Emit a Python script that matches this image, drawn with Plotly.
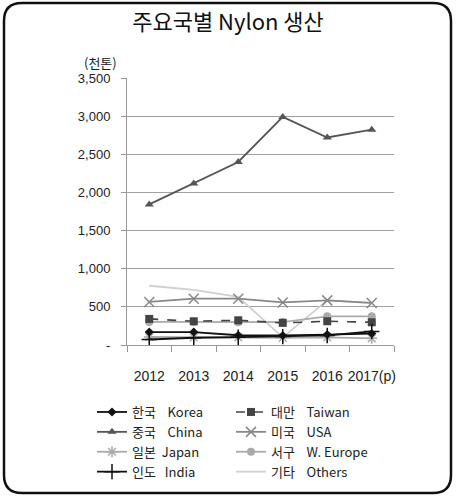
import plotly.graph_objects as go

years = ["2012", "2013", "2014", "2015", "2016", "2017(p)"]
korea = [170, 170, 128, 125, 137, 150]
taiwan = [342, 311, 324, 290, 311, 298]
china = [1843, 2117, 2399, 2990, 2720, 2822]
usa = [564, 607, 607, 558, 585, 551]
japan = [105, 100, 100, 94, 100, 88]
weurope = [303, 303, 298, 300, 376, 376]
india = [72, 95, 102, 110, 125, 178]
others = [777, 724, 630, 100, 585, 550]

ytickvals = [0, 500, 1000, 1500, 2000, 2500, 3000, 3500]
yticktext = ["-", "500", "1,000", "1,500", "2,000", "2,500", "3,000", "3,500"]

W, H = 456, 497
ML, MR, MT, MB = 127, 62, 78, 152
PW = W - ML - MR
PH = H - MT - MB

def px(x):
    return (x - ML) / PW

def py(y):
    return (H - MB - y) / PH

FONT = "Liberation Sans, Arial, Noto Sans CJK KR, sans-serif"
SP = "\u00a0"

series = [
    ("한국" + SP * 4 + "Korea", korea, "#111111", "solid", "diamond", 7, 1.8, 1),
    ("대만" + SP * 4 + "Taiwan", taiwan, "#444444", "dash", "square", 8, 1.6, 2),
    ("중국" + SP * 4 + "China", china, "#555555", "solid", "triangle-up", 8, 1.8, 3),
    ("미국" + SP * 4 + "USA", usa, "#888888", "solid", "x-thin-open", 10, 1.8, 4),
    ("일본" + SP * 2 + "Japan", japan, "#aaaaaa", "solid", "asterisk-open", 9, 1.8, 5),
    ("서구" + SP * 4 + "W. Europe", weurope, "#aaaaaa", "solid", "circle", 8, 1.8, 6),
    ("인도" + SP * 3 + "India", india, "#111111", "solid", "cross-thin-open", 11, 1.8, 7),
    ("기타" + SP * 4 + "Others", others, "#d0d0d0", "solid", None, 0, 1.8, 8),
]

draw_order = [7, 3, 4, 5, 1, 0, 6, 2]

fig = go.Figure()
for i in draw_order:
    name, vals, col, dash, sym, ms, lw, rank = series[i]
    if sym is None:
        fig.add_trace(go.Scatter(x=years, y=vals, mode="lines", name=name,
                                 line=dict(color=col, width=lw, dash=dash),
                                 legendrank=rank))
    else:
        mk = dict(symbol=sym, size=ms, color=col)
        if sym.endswith("-open"):
            mk["line"] = dict(color=col, width=1.5)
        fig.add_trace(go.Scatter(x=years, y=vals, mode="lines+markers", name=name,
                                 line=dict(color=col, width=lw, dash=dash),
                                 marker=mk, legendrank=rank))

r = 18
x0, x1, y0, y1 = px(4), px(451), py(493), py(3)
rr = r / PW
path = (f"M {x0+rr},{y1} L {x1-rr},{y1} Q {x1},{y1} {x1},{y1-rr} "
        f"L {x1},{y0+rr} Q {x1},{y0} {x1-rr},{y0} L {x0+rr},{y0} "
        f"Q {x0},{y0} {x0},{y0+rr} L {x0},{y1-rr} Q {x0},{y1} {x0+rr},{y1} Z")

fig.update_layout(
    width=W, height=H,
    margin=dict(l=ML, r=MR, t=MT, b=MB, autoexpand=False),
    paper_bgcolor="white", plot_bgcolor="white",
    font=dict(family=FONT, color="#222222", size=13),
    title=dict(text="주요국별 Nylon 생산", x=0.5, xref="container", xanchor="center",
               y=1 - 22 / H, yref="container", yanchor="middle",
               font=dict(size=22, family="Noto Sans CJK KR, sans-serif", color="#111111")),
    showlegend=True,
    legend=dict(orientation="h", x=px(92), xanchor="left",
                y=py(397), yanchor="top",
                entrywidth=94, entrywidthmode="pixels", traceorder="normal",
                font=dict(size=13, family="Noto Sans CJK KR, Liberation Sans, sans-serif", color="#222222"),
                itemwidth=30, tracegroupgap=0, bgcolor="rgba(0,0,0,0)"),
    shapes=[dict(type="path", path=path, xref="paper", yref="paper",
                 line=dict(color="#111111", width=2.5), layer="above")],
    annotations=[dict(text="(천톤)", x=px(100), y=py(62), xref="paper", yref="paper",
                      showarrow=False, xanchor="center", yanchor="middle",
                      font=dict(size=13, family="Noto Sans CJK KR, sans-serif", color="#222222"))],
)

fig.update_xaxes(type="category", showgrid=False, showline=True, linecolor="#999999",
                 linewidth=1, ticks="outside", tickson="boundaries", ticklen=6,
                 tickcolor="#999999", tickfont=dict(size=14, color="#222222"),
                 tickangle=0, automargin=False, range=[-0.5, 5.5], ticklabelstandoff=18)
fig.update_yaxes(range=[0, 3500], tickvals=ytickvals, ticktext=yticktext,
                 showgrid=True, gridcolor="#a0a0a0", gridwidth=1,
                 showline=True, linecolor="#999999", linewidth=1,
                 ticks="outside", ticklen=5, tickcolor="#999999", automargin=False,
                 tickfont=dict(size=13, color="#222222"), zeroline=False,
                 ticklabelstandoff=8)

fig.write_html("out.html", config={"displayModeBar": False},
               post_script="document.body.style.margin='0';document.body.style.padding='0';")
